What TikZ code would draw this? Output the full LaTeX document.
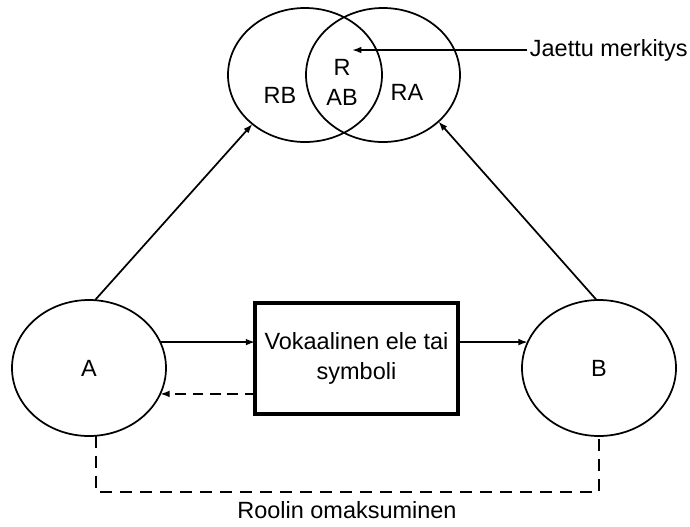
\documentclass[tikz,border=0pt]{standalone}
\usepackage{fontspec}
\setmainfont{Liberation Sans}
\usetikzlibrary{arrows.meta,positioning,shapes.geometric}

\begin{document}
\begin{tikzpicture}[
      x=0.75pt, y=-0.75pt,
      font=\fontsize{17.6}{22.5}\selectfont,
      venn/.style={
          ellipse,
          draw,
          line width=1.3pt,
          minimum width=115.5pt,
          minimum height=100.5pt,
          inner sep=0pt,
          outer sep=0pt
        },
      actor/.style={venn, minimum height=102pt},
      msgbox/.style={
          rectangle,
          draw,
          line width=3pt,
          align=center,
          minimum width=152pt,
          minimum height=83pt,
          outer sep=0pt
        },
      arrow/.style={-{Latex[length=7pt,width=5pt]}, line width=1.3pt},
      dasharrow/.style={arrow, dash pattern=on 8pt off 5pt},
      dashline/.style={line width=1.4pt, dash pattern=on 9pt off 6pt}
    ]
    \useasboundingbox (0,0) rectangle (690,526);

    % shared meaning
    \node[venn] (rb) at (305,75) {};
    \node[venn] (ra) at (383,75) {};
    \node (rbtext) at (280,95) {RB};
    \node (ratext) at (407,92) {RA};
    \node[align=center] (rab) at (342,82) {R\\AB};
    \node[anchor=west, inner sep=2pt] (jaettu) at (527,50) {Jaettu merkitys};
    \coordinate (shared) at (352,50);
    \draw[arrow] (jaettu.west) -- (shared);

    % actors and message
    \node[actor] (a) at (89,368) {A};
    \node[actor] (b) at (599,368) {B};
    \node[msgbox] (box) at (356.5,358.5) {Vokaalinen ele tai\\symboli};
    \draw[arrow] (a.20) -- (a.20 -| box.west);
    \draw[arrow] (box.east |- b.160) -- (b.160);
    \draw[dasharrow] (box.west |- a.-20) -- (a.-20);

    \draw[arrow] (a.85) -- (rb.223);
    \draw[arrow] (b.92) -- (ra.320);

    % role taking
    \draw[dashline] (a.-84) -- ++(0,56) -| (b.south);
    \node[inner sep=1pt] (roolin) at (347,510) {Roolin omaksuminen};
  \end{tikzpicture}
\end{document}
